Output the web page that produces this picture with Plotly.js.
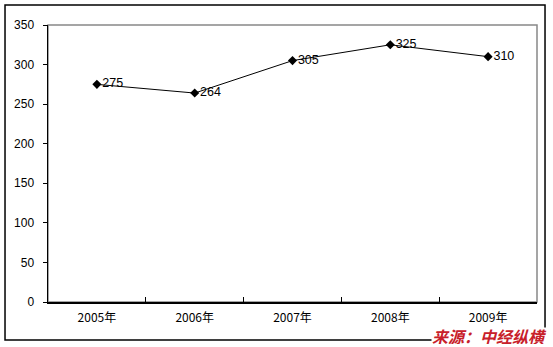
<!DOCTYPE html>
<html><head><meta charset="utf-8">
<script src="https://cdn.plot.ly/plotly-3.0.1.min.js"></script>
<style>body{margin:0;background:#fff}#c{width:553px;height:347px}</style>
</head><body><div id="c"></div>
<script>
const years = ['2005年','2006年','2007年','2008年','2009年'];
const values = [275, 264, 305, 325, 310];
const yTicks = [0,50,100,150,200,250,300,350];
const sourceText = '来源：中经纵横';

const trace = {
  x: years, y: values, type: 'scatter', mode: 'lines+markers+text',
  text: values.map(String), textposition: 'middle right',
  textfont: {family: 'Liberation Sans, Arial, sans-serif', size: 12.5, color: '#000'},
  line: {color: '#000', width: 1},
  marker: {symbol: 'diamond', size: 7, color: '#000'},
  cliponaxis: false, hoverinfo: 'none'
};
const layout = {
  width: 553, height: 347,
  margin: {l: 48, r: 16, t: 25, b: 45},
  paper_bgcolor: '#fff', plot_bgcolor: '#fff',
  showlegend: false,
  font: {family: 'Liberation Sans, Arial, "Noto Sans CJK SC", sans-serif', size: 12, color: '#000'},
  xaxis: {
    type: 'category', range: [-0.5, 4.5], tickson: 'boundaries',
    ticks: 'inside', ticklen: 5, tickcolor: '#000', tickwidth: 1,
    showline: true, linecolor: '#000', linewidth: 1.5, showgrid: false, zeroline: false,
    tickfont: {family: '"Noto Sans CJK SC", Liberation Sans, sans-serif', size: 12}, ticklabelstandoff: 4
  },
  yaxis: {
    range: [0, 350], tickvals: yTicks, ticktext: yTicks.map(String),
    ticks: 'outside', ticklen: 4, tickcolor: '#000',
    showline: true, linecolor: '#000', linewidth: 1.5, showgrid: false, zeroline: false,
    ticklabelstandoff: 6
  },
  shapes: [
    {type: 'rect', xref: 'paper', yref: 'paper', x0: 0, x1: 1, y0: 0, y1: 1,
     line: {color: '#888', width: 1.5}, layer: 'below'},
    {type: 'rect', xref: 'paper', yref: 'paper', x0: -0.0879, x1: 1.0164, y0: -0.137, y1: 1.0722,
     line: {color: '#000', width: 1.5}, layer: 'below'}
  ],
  annotations: [{
    xref: 'paper', yref: 'paper', x: 1.0235, y: -0.124, xanchor: 'right', yanchor: 'middle',
    text: '<b><i>' + sourceText + '</i></b>', showarrow: false, height: 16,
    font: {family: '"Noto Sans CJK SC", sans-serif', size: 16, color: '#c8202a'},
    bgcolor: '#fff', borderpad: 0
  }]
};
Plotly.newPlot('c', [trace], layout, {staticPlot: true, displayModeBar: false});
</script></body></html>
